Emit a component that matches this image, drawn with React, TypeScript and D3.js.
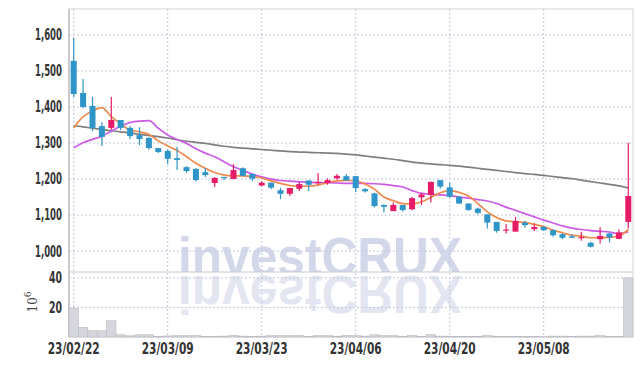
import React from "react";
import * as d3 from "d3";

const dates = [
  "23/02/22","23/02/23","23/02/24","23/02/27","23/02/28","23/03/02","23/03/03","23/03/06","23/03/07","23/03/08",
  "23/03/09","23/03/10","23/03/13","23/03/14","23/03/15","23/03/16","23/03/17","23/03/20","23/03/21","23/03/22",
  "23/03/23","23/03/24","23/03/27","23/03/28","23/03/29","23/03/30","23/03/31","23/04/03","23/04/04","23/04/05",
  "23/04/06","23/04/07","23/04/10","23/04/11","23/04/12","23/04/13","23/04/14","23/04/17","23/04/18","23/04/19",
  "23/04/20","23/04/21","23/04/24","23/04/25","23/04/26","23/04/27","23/04/28","23/05/02","23/05/03","23/05/04",
  "23/05/08","23/05/09","23/05/10","23/05/11","23/05/12","23/05/15","23/05/16","23/05/17","23/05/18","23/05/19",
];

const openP = [1528,1439,1403,1347,1342,1364,1342,1322,1314,1286,1278,1258,1233,1228,1219,1189,1206,1200,1230,1214,
  1182,1190,1169,1159,1173,1196,1190,1189,1202,1208,1208,1172,1160,1128,1111,1128,1116,1149,1156,1197,
  1177,1151,1132,1118,1102,1081,1057,1054,1079,1061,1067,1058,1047,1041,1037,1023,1033,1049,1034,1081];
const highP = [1592,1478,1428,1358,1428,1364,1347,1344,1317,1286,1283,1289,1236,1231,1231,1206,1206,1242,1233,1214,
  1194,1190,1176,1176,1192,1196,1217,1202,1214,1214,1208,1175,1162,1130,1135,1128,1150,1162,1193,1197,
  1190,1153,1132,1120,1102,1081,1075,1095,1084,1077,1070,1061,1050,1047,1054,1026,1066,1050,1060,1301];
const lowP = [1428,1397,1333,1292,1336,1336,1311,1294,1281,1272,1242,1225,1217,1194,1206,1178,1197,1200,1208,1195,
  1180,1172,1144,1153,1167,1167,1184,1184,1198,1196,1164,1163,1121,1107,1111,1110,1114,1128,1135,1174,
  1148,1131,1112,1102,1063,1051,1049,1054,1065,1056,1056,1040,1033,1036,1029,1010,1021,1024,1033,1063];
const closeP = [1436,1400,1342,1317,1364,1342,1319,1311,1286,1275,1256,1253,1222,1197,1211,1203,1203,1225,1209,1201,
  1190,1176,1159,1175,1186,1184,1192,1197,1209,1196,1175,1166,1125,1123,1128,1114,1147,1157,1192,1179,
  1151,1132,1114,1106,1079,1056,1060,1084,1072,1067,1058,1044,1037,1037,1039,1012,1042,1038,1052,1153];

const volume = [19.5,6.5,4.2,4.2,11,1.5,0.8,1.5,1.5,0.4,0.7,0.9,0.9,0.9,0.4,0.5,0.6,1.1,0.6,0.4,
  0.6,0.9,0.9,0.9,0.9,0.4,0.9,0.9,0.5,0.9,0.9,0.6,1.5,0.9,0.9,0.5,0.9,0.5,1.6,0.6,
  0.5,0.5,0.5,0.4,0.9,0.5,0.5,0.5,0.3,0.3,0.2,0.6,0.6,0.3,0.6,0.6,0.9,0.5,0.5,40];

const maShort = [1342,1373,1389,1398,1373,1353,1336,1331,1324,1306,1292,1279,1262,1244,1230,1218,1211,1209,1209,1207,
  1203,1195,1188,1182,1180,1180,1183,1190,1195,1196,1196,1186,1172,1150,1140,1132,1131,1137,1149,1162,
  1168,1163,1153,1132,1109,1093,1084,1081,1080,1074,1068,1058,1051,1044,1042,1037,1037,1038,1042,1060];
const maMid = [1287,1301,1310,1319,1333,1347,1357,1361,1362,1341,1322,1310,1299,1284,1272,1262,1248,1234,1224,1214,
  1206,1200,1196,1194,1192,1191,1190,1190,1189,1188,1188,1188,1187,1185,1182,1178,1168,1160,1158,1156,
  1154,1150,1147,1143,1139,1132,1122,1113,1104,1095,1086,1078,1070,1064,1060,1057,1055,1053,1048,1054];
const maLong = [1348,1345,1341,1338,1334,1331,1328,1324,1321,1318,1314,1309,1305,1302,1299,1295,1291,1288,1286,1284,
  1282,1280,1278,1276,1275,1274,1273,1272,1271,1269,1267,1264,1261,1258,1255,1251,1247,1244,1242,1240,
  1238,1236,1233,1230,1227,1224,1221,1218,1215,1213,1210,1207,1204,1201,1197,1193,1189,1185,1181,1175];

const priceTicks = [1000, 1100, 1200, 1300, 1400, 1500, 1600];
const volTicks = [20, 40];
const labelIdx = [0, 10, 20, 30, 40, 50];

const W = 643, H = 366;
const L = 69, R = 633, T = 9, SEP = 272, B = 337;
const BLUE = "#2f95c8", RED = "#e61c68";
const GRID = "#c3c8dc";
const FONT = "'DejaVu Sans Condensed', 'DejaVu Sans', sans-serif";

export default function App() {
  const idx = d3.range(dates.length);
  const x = d3.scaleBand<number>().domain(idx).range([L, R]).padding(0);
  const bw = x.bandwidth();
  const cx = (i: number) => (x(i) as number) + bw / 2;
  const y = d3.scaleLinear().domain([942, 1672]).range([SEP, T]);
  const yv = d3.scaleLinear().domain([0, 44]).range([B, SEP]);
  const line = (arr: number[]) =>
    d3.line<number>().x((_, i) => cx(i)).y((d) => y(d)).curve(d3.curveMonotoneX)(arr) || "";

  return (
    <svg width={W} height={H} style={{ position: "absolute", left: 0, top: 0, background: "#fff" }}>
      <defs>
        <clipPath id="pclip"><rect x={L} y={T} width={R - L} height={SEP - T} /></clipPath>
        <clipPath id="vclip"><rect x={L} y={SEP} width={R - L} height={B - SEP} /></clipPath>
      </defs>
      <rect x={0} y={0} width={W} height={H} fill="#fff" />
      {/* watermark */}
      <g clipPath="url(#pclip)">
        <text x={178} y={275} textLength={284} lengthAdjust="spacingAndGlyphs"
          fontFamily="'Liberation Sans', Arial, sans-serif" fontWeight="bold" fontSize={54} fill="#d2d8ea">investCRUX</text>
      </g>
      <g clipPath="url(#vclip)">
        <g transform="translate(0,551) scale(1,-1)">
          <text x={178} y={275} textLength={284} lengthAdjust="spacingAndGlyphs"
            fontFamily="'Liberation Sans', Arial, sans-serif" fontWeight="bold" fontSize={54} fill="#e3e6f1">investCRUX</text>
        </g>
      </g>
      {/* grid */}
      {priceTicks.map((t) => (
        <line key={"pg" + t} x1={L} x2={R} y1={y(t)} y2={y(t)} stroke={GRID} strokeDasharray="2,2" />
      ))}
      {volTicks.map((t) => (
        <line key={"vg" + t} x1={L} x2={R} y1={yv(t)} y2={yv(t)} stroke={GRID} strokeDasharray="2,2" />
      ))}
      {labelIdx.map((i) => (
        <line key={"xg" + i} x1={cx(i)} x2={cx(i)} y1={T} y2={B} stroke={GRID} strokeDasharray="2,2" />
      ))}
      {/* frame */}
      <rect x={L} y={T} width={R - L} height={B - T} fill="none" stroke="#d4d4d8" />
      <line x1={L} x2={R} y1={SEP} y2={SEP} stroke="#c8c8cc" />
      <line x1={L} x2={L} y1={T} y2={B} stroke="#c0c0c4" strokeWidth={1.5} />
      {/* volume */}
      {volume.map((v, i) => (
        <rect key={"v" + i} x={x(i)} y={yv(v)} width={bw} height={B - yv(v)} fill="#d6d6de" stroke="#b8b8c0" strokeWidth={0.6} />
      ))}
      {/* MA lines */}
      <path d={line(maLong)} fill="none" stroke="#7f7f7f" strokeWidth={1.7} />
      <path d={line(maMid)} fill="none" stroke="#cc5ae8" strokeWidth={1.7} />
      <path d={line(maShort)} fill="none" stroke="#ef8a4f" strokeWidth={1.7} />
      {/* candles */}
      {idx.map((i) => {
        const up = closeP[i] >= openP[i];
        const c = up ? RED : BLUE;
        const top = y(Math.max(openP[i], closeP[i]));
        const bot = y(Math.min(openP[i], closeP[i]));
        return (
          <g key={"c" + i}>
            <line x1={cx(i)} x2={cx(i)} y1={y(highP[i])} y2={y(lowP[i])} stroke={c} strokeWidth={1.2} />
            <rect x={cx(i) - 3} y={top} width={6} height={Math.max(1.2, bot - top)} fill={c} />
          </g>
        );
      })}
      {/* axis labels */}
      {priceTicks.map((t) => (
        <text key={"pl" + t} x={62} y={y(t)} dy="0.36em" textAnchor="end" fontFamily={FONT}
          fontWeight="bold" fontSize={15} fill="#333" textLength={27} lengthAdjust="spacingAndGlyphs">{d3.format(",")(t)}</text>
      ))}
      {volTicks.map((t) => (
        <text key={"vl" + t} x={62} y={yv(t)} dy="0.36em" textAnchor="end" fontFamily={FONT}
          fontWeight="bold" fontSize={15} fill="#333" textLength={13} lengthAdjust="spacingAndGlyphs">{t}</text>
      ))}
      <g transform="translate(37,302) rotate(-90)">
        <text x={0} y={0} textAnchor="middle" fontFamily="'DejaVu Serif', serif" fontSize={12} fill="#444">
          10<tspan dy={-6} fontSize={9}>6</tspan>
        </text>
      </g>
      {labelIdx.map((i) => (
        <text key={"xl" + i} x={cx(i)} y={354} textAnchor="middle" fontFamily={FONT}
          fontWeight="bold" fontSize={15} fill="#333" textLength={52} lengthAdjust="spacingAndGlyphs">{dates[i]}</text>
      ))}
    </svg>
  );
}
